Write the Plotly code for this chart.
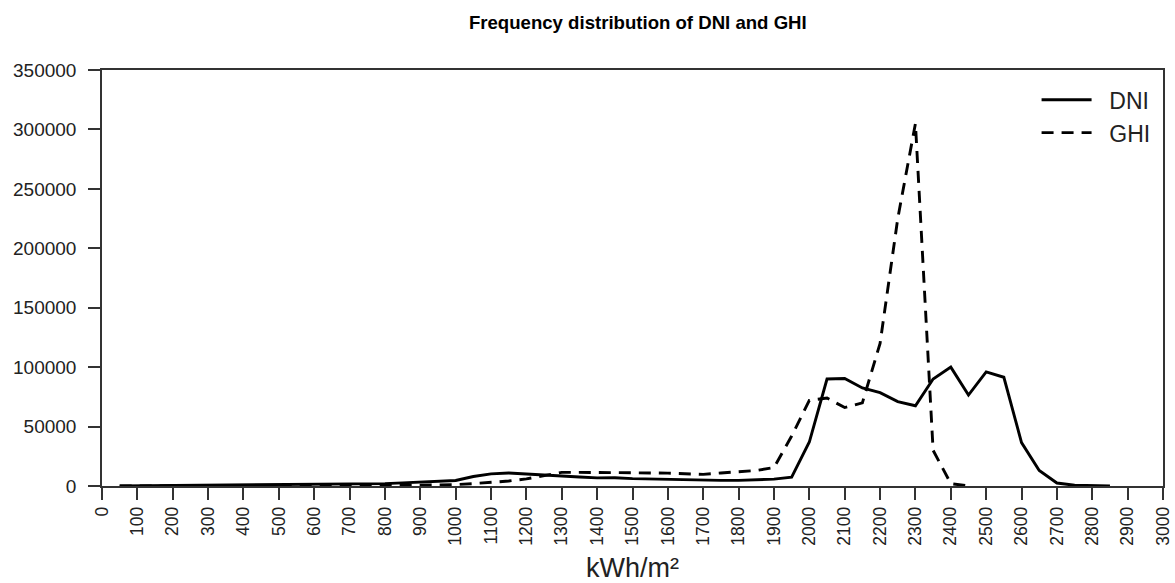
import plotly.graph_objects as go

x_dni = [50, 100, 150, 200, 250, 300, 350, 400, 450, 500, 550, 600, 650, 700, 750, 800, 850, 900, 950,
         1000, 1050, 1100, 1150, 1200, 1250, 1300, 1350, 1400, 1450, 1500, 1550, 1600, 1650, 1700, 1750,
         1800, 1850, 1900, 1950, 2000, 2050, 2100, 2150, 2200, 2250, 2300, 2350, 2400, 2450, 2500, 2550,
         2600, 2650, 2700, 2750, 2800, 2850]
dni = [100, 200, 200, 300, 300, 400, 500, 600, 700, 800, 900, 1000, 1100, 1300, 1600, 2000, 2600, 3300, 4000,
       4600, 8000, 10200, 11000, 10300, 9300, 8500, 7600, 6800, 7000, 6200, 5800, 5300, 5000, 4800, 4700,
       4700, 5000, 5800, 7500, 37000, 90000, 90500, 82500, 78500, 71000, 67500, 90000, 100000, 76500, 96000, 91500,
       36500, 13000, 2500, 600, 200, 100]

x_ghi = [50, 100, 150, 200, 250, 300, 350, 400, 450, 500, 550, 600, 650, 700, 750, 800, 850, 900, 950,
         1000, 1050, 1100, 1150, 1200, 1250, 1300, 1350, 1400, 1450, 1500, 1550, 1600, 1650, 1700, 1750,
         1800, 1850, 1900, 1950, 2000, 2050, 2100, 2150, 2200, 2250, 2300, 2350, 2400, 2450]
ghi = [0, 0, 0, 0, 0, 0, 0, 0, 0, 0, 50, 50, 100, 100, 200, 300, 500, 700, 900,
       1200, 2000, 3000, 4200, 6000, 9000, 11500, 11500, 11500, 11300, 11000, 11000, 10800, 10300, 9800, 11000,
       12000, 13000, 15500, 42000, 72000, 74000, 66000, 70000, 120000, 225000, 305000, 30000, 2000, 0]

x_ticks = list(range(0, 3001, 100))
y_ticks = list(range(0, 350001, 50000))

fig = go.Figure()
fig.add_trace(go.Scatter(x=x_dni, y=dni, mode="lines", name="\u00a0\u00a0DNI",
                         line=dict(color="black", width=2.9)))
fig.add_trace(go.Scatter(x=x_ghi, y=ghi, mode="lines", name="\u00a0\u00a0GHI",
                         line=dict(color="black", width=2.9, dash="12px,8px")))

font_family = "Liberation Sans, Arial, sans-serif"
axis_line = "#333333"

fig.update_layout(
    width=1175, height=583,
    margin=dict(l=102, r=12, t=70, b=97),
    paper_bgcolor="white", plot_bgcolor="white",
    font=dict(family=font_family, color="#222222"),
    title=dict(text="<b>Frequency distribution of DNI and GHI</b>", x=0.505, xref="paper",
               y=0.962, yref="container", xanchor="center", yanchor="middle",
               font=dict(size=18.6, color="black")),
    legend=dict(x=0.993, y=0.98, xanchor="right", yanchor="top",
                bgcolor="rgba(0,0,0,0)", borderwidth=0,
                font=dict(size=23, color="#222222"), itemwidth=50, tracegroupgap=2),
    showlegend=True,
)
fig.update_xaxes(range=[0, 3000], tickvals=x_ticks, ticktext=[str(v) for v in x_ticks],
                 tickangle=-90, ticks="outside", ticklen=12, tickwidth=1.5, tickcolor=axis_line,
                 showline=True, linecolor=axis_line, linewidth=1.5, mirror=True,
                 showgrid=False, zeroline=False, automargin=False,
                 tickfont=dict(size=17.5, color="#222222"),
                 title=dict(text="kWh/m²", font=dict(size=27, color="#222222"), standoff=15))
fig.update_yaxes(range=[0, 350000], tickvals=y_ticks, ticktext=[str(v) for v in y_ticks],
                 ticks="outside", ticklen=12, tickwidth=1.5, tickcolor=axis_line,
                 showline=True, linecolor=axis_line, linewidth=1.5, mirror=True,
                 showgrid=False, zeroline=False, automargin=False, ticklabelstandoff=8,
                 tickfont=dict(size=19, color="#222222"))

fig.write_html("out.html", config={"displayModeBar": False},
               post_script="document.body.style.margin='0px';document.body.style.overflow='hidden';")
